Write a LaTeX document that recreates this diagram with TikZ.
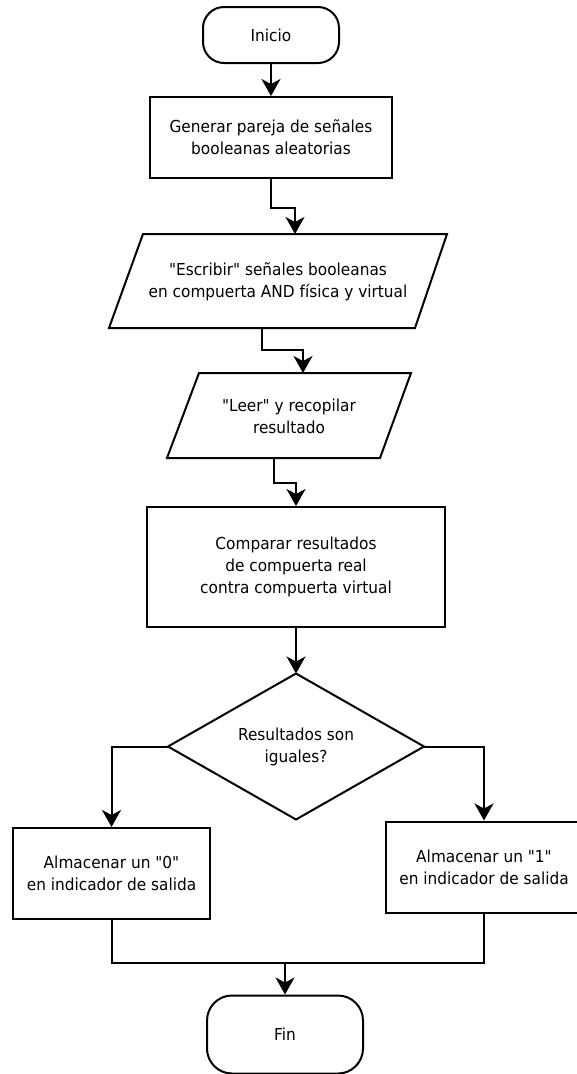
\documentclass[tikz,border=0pt]{standalone}
\usepackage{fontspec}
\setmainfont{DejaVu Sans}[Ligatures=TeXOff, FakeStretch=0.93]
\usetikzlibrary{arrows.meta,shapes.geometric}
\begin{document}
\begin{tikzpicture}[x=1pt,y=-1pt,
  every node/.style={font=\fontsize{16.5}{22}\selectfont, align=center, inner sep=0pt},
  stroke/.style={draw=black, line width=2pt},
  term/.style={stroke, rectangle, fill=white},
  proc/.style={stroke, rectangle, fill=white},
  iotext/.style={rectangle},
  decision/.style={stroke, diamond, aspect=1.75, fill=white, outer sep=0pt},
  link/.style={line width=2pt, line join=miter},
  arr/.style={link, -{Stealth[length=17pt, width=19pt, inset=5pt]}}
]
\fill[white] (0,0) rectangle (576,1074);
\useasboundingbox (0,0) rectangle (576,1074);

% start / end terminators
\node[term, rounded corners=21pt, minimum width=136pt, minimum height=56pt] (inicio) at (271,35) {Inicio};
\node[term, rounded corners=25pt, minimum width=156pt, minimum height=78pt] (fin) at (285,1034.5) {Fin};

% process boxes
\node[proc, minimum width=242pt, minimum height=81pt] (gen) at (271,137.5)
  {Generar pareja de señales\\booleanas aleatorias};
\node[proc, minimum width=298pt, minimum height=120pt] (comp) at (296,567)
  {Comparar resultados\\de compuerta real\\contra compuerta virtual};
\node[proc, minimum width=197pt, minimum height=91pt] (cero) at (111.5,873.5)
  {Almacenar un "0"\\en indicador de salida};
\node[proc, minimum width=196pt, minimum height=91pt] (uno) at (484,867)
  {Almacenar un "1"\\en indicador de salida};

% input/output parallelograms
\draw[stroke, line join=miter] (143,234) -- (447,234) -- (415,328) -- (109,328) -- cycle;
\node[iotext] (escribir) at (278,282)
  {"Escribir" señales booleanas\\en compuerta AND física y virtual};
\draw[stroke, line join=miter] (199,373) -- (411,373) -- (380,458) -- (167,458) -- cycle;
\node[iotext] (leer) at (289,416)
  {"Leer" y recopilar\\resultado};

% decision
\node[decision, minimum width=256pt, minimum height=146pt] (dec) at (296,746.5)
  {Resultados son\\iguales?};

% connector ends on the parallelograms and the merge point
\coordinate (escIn)  at (295,234);
\coordinate (escOut) at (262,328);
\coordinate (leeIn)  at (303,373);
\coordinate (leeOut) at (274,458);
\coordinate (merge)  at (285,963);

% connectors
\draw[arr] (inicio.south) -- (gen.north);
\draw[arr] (gen.south) -- ++(0,29) -| (escIn);
\draw[arr] (escOut) -- ++(0,22) -| (leeIn);
\draw[arr] (leeOut) -- ++(0,25) -| (comp.north);
\draw[arr] (comp.south) -- (dec.north);
\draw[arr] (dec.west) -| (cero.north);
\draw[arr] (dec.east) -| (uno.north);
\draw[link] (cero.south) |- (merge) -| (uno.south);
\draw[arr] (merge) -- (fin.north);
\end{tikzpicture}
\end{document}
